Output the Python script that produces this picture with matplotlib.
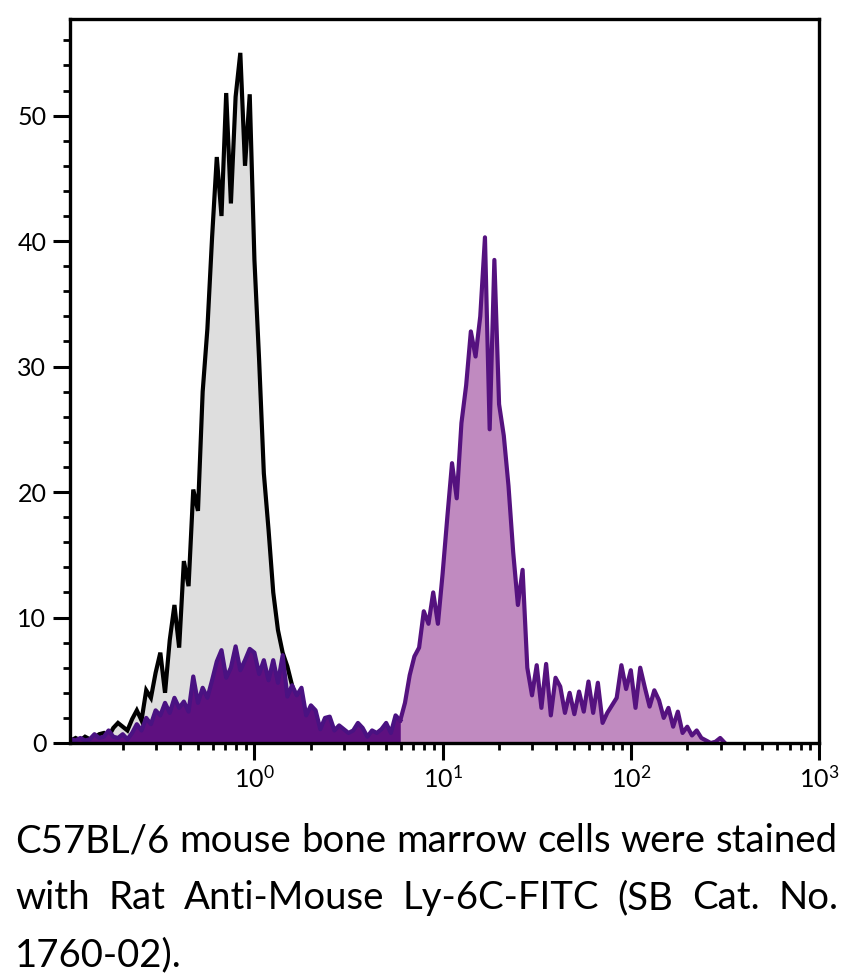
import numpy as np
import matplotlib.pyplot as plt
from matplotlib.ticker import LogLocator, NullFormatter, MultipleLocator

plt.rcParams['font.family'] = ['Lato', 'DejaVu Sans']

# instrument channel scale: 40 channels per decade, starting just above 10^-1
channels = 10 ** (-0.975 + 0.025 * np.arange(140))

# isotype control (grey) counts
isotype_counts = [
    0.2, 0.4, 0.2, 0.5, 0.3, 0.4, 0.7, 0.8, 0.5, 1.2,
    1.6, 1.3, 1.0, 1.9, 2.6, 1.8, 4.2, 3.6, 5.6, 7.2,
    4.0, 8.2, 11.0, 7.6, 14.5, 12.5, 20.2, 18.5, 28.0, 33.0,
    40.3, 46.7, 42.0, 51.8, 43.0, 51.5, 55.0, 46.0, 51.7, 38.5,
    30.5, 21.5, 17.0, 12.0, 9.0, 7.2, 6.1, 4.6, 3.4, 2.5,
    1.6, 1.0, 0.6, 0.4, 0.2, 0.0,
]

# Ly-6C-FITC stained (purple) counts
ly6c_counts = [
    0.3, 0.2, 0.4, 0.2, 0.3, 0.7, 0.4, 0.5, 1.0, 0.5,
    0.4, 0.7, 0.3, 0.8, 1.5, 1.0, 2.0, 1.5, 2.6, 2.2,
    3.2, 2.4, 3.6, 2.8, 3.3, 2.5, 5.3, 3.2, 4.4, 3.6,
    5.0, 6.5, 7.4, 5.2, 6.0, 7.7, 5.8, 6.6, 7.5, 7.2,
    5.5, 6.6, 5.0, 6.6, 4.8, 7.0, 3.7, 4.6, 3.8, 4.4,
    2.2, 3.0, 2.6, 1.1, 2.0, 2.1, 1.0, 1.4, 1.1, 0.8,
    1.0, 1.6, 1.2, 0.5, 1.0, 0.8, 1.1, 1.6, 0.8, 2.2,
    1.8, 3.2, 5.4, 6.9, 7.6, 10.5, 9.5, 12.0, 9.5, 13.5,
    18.0, 22.3, 19.5, 25.5, 28.5, 32.8, 30.8, 34.0, 40.3, 25.0,
    38.5, 27.0, 24.5, 20.5, 15.2, 11.0, 13.8, 6.0, 3.8, 6.2,
    2.8, 6.3, 2.2, 5.2, 4.5, 2.4, 4.0, 2.3, 4.1, 2.5,
    4.9, 2.4, 4.8, 1.6, 2.4, 3.0, 3.6, 6.2, 4.3, 5.8,
    2.8, 6.0, 4.4, 2.9, 4.2, 3.4, 2.0, 2.8, 1.3, 2.5,
    0.8, 1.3, 0.6, 1.0, 0.4, 0.2, 0.0, 0.1, 0.4, 0.0,
]
low_population_end = 70  # channels up to this belong to the dim population

caption_lines = [
    "C57BL/6 mouse bone marrow cells were stained",
    "with Rat Anti-Mouse Ly-6C-FITC (SB Cat. No.",
    "1760-02).",
]

W, H = 849, 974
fig = plt.figure(figsize=(W / 100, H / 100), dpi=100)
ax = fig.add_axes([70 / W, 1 - 743 / H, (819 - 70) / W, (743 - 19) / H])

iso_x = channels[:len(isotype_counts)]
ly_x = channels[:len(ly6c_counts)]
ly = np.array(ly6c_counts)
n = low_population_end + 1

ax.fill_between(iso_x, isotype_counts, color='#dedede', lw=0, zorder=1)
ax.plot(iso_x, isotype_counts, color='black', lw=3.0, zorder=2,
        solid_joinstyle='miter')
ax.fill_between(ly_x, ly, color='#c08ac0', lw=0, zorder=3)
ax.fill_between(ly_x[:n], ly[:n], color='#5e1080', lw=0, zorder=4)
ax.plot(ly_x[:n], ly[:n], color='#4a1282', lw=3.0, zorder=5)
ax.plot(ly_x[n - 1:], ly[n - 1:], color='#55127f', lw=3.0, zorder=5)

ax.set_xscale('log')
ax.set_xlim(10 ** -0.98, 1000)
ax.set_ylim(0, 57.7)
ax.xaxis.set_major_locator(LogLocator(base=10, numticks=10))
ax.xaxis.set_minor_locator(LogLocator(base=10, subs=np.arange(2, 10), numticks=20))
ax.xaxis.set_minor_formatter(NullFormatter())
ax.yaxis.set_major_locator(MultipleLocator(10))
ax.yaxis.set_minor_locator(MultipleLocator(2))

for s in ax.spines.values():
    s.set_linewidth(2.4)
    s.set_zorder(6)
ax.tick_params(which='major', direction='out', length=12, width=2.2,
               labelsize=18, pad=4)
ax.tick_params(which='minor', direction='out', length=5, width=2.0)
ax.tick_params(axis='y', which='major', pad=5)

# caption, justified like the source
x0, x1 = 15, 838
baselines = [852, 909, 966]
probe = fig.text(0, 0, caption_lines[0], fontsize=23)
fig.canvas.draw()
renderer = fig.canvas.get_renderer()
w = probe.get_window_extent(renderer).width
probe.remove()
size = 23 * (x1 - x0) / w

for k, line in enumerate(caption_lines):
    yb = 1 - baselines[k] / H
    words = line.split(' ')
    if k == len(caption_lines) - 1:
        fig.text(x0 / W, yb, line, fontsize=size, va='baseline')
        continue
    texts = [fig.text(0, yb, wd, fontsize=size, va='baseline') for wd in words]
    fig.canvas.draw()
    widths = [t.get_window_extent(renderer).width for t in texts]
    gap = ((x1 - x0) - sum(widths)) / (len(words) - 1)
    xpos = x0
    for t, wd in zip(texts, widths):
        t.set_x(xpos / W)
        xpos += wd + gap

fig.savefig('out.png', dpi=100)
